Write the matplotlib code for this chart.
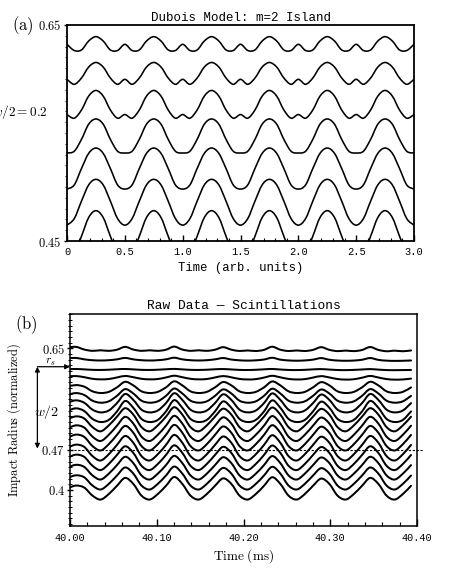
import matplotlib
matplotlib.use('Agg')
import matplotlib.pyplot as plt
import numpy as np
from matplotlib.path import Path
from matplotlib.patches import PathPatch
from matplotlib.ticker import MultipleLocator, FixedLocator, FormatStrFormatter
import matplotlib.transforms as mtransforms

plt.rcParams['mathtext.fontset'] = 'cm'
plt.rcParams['font.family'] = 'Liberation Mono'

# ---------------- panel (a): Dubois model ----------------
t_a = np.arange(49) * 0.0625
a_labels = ['0', '0.5', '1.0', '1.5', '2.0', '2.5', '3.0']

a1 = [0.6321, 0.6264, 0.6269, 0.6352, 0.6392, 0.6352, 0.6269, 0.6264,
      0.6321, 0.6264, 0.6269, 0.6352, 0.6392, 0.6352, 0.6269, 0.6264,
      0.6321, 0.6264, 0.6269, 0.6352, 0.6392, 0.6352, 0.6269, 0.6264,
      0.6321, 0.6264, 0.6269, 0.6352, 0.6392, 0.6352, 0.6269, 0.6264,
      0.6321, 0.6264, 0.6269, 0.6352, 0.6392, 0.6352, 0.6269, 0.6264,
      0.6321, 0.6264, 0.6269, 0.6352, 0.6392, 0.6352, 0.6269, 0.6264, 0.6321]
a2 = [0.5997, 0.5951, 0.6009, 0.6111, 0.6153, 0.6111, 0.6009, 0.5951,
      0.5997, 0.5951, 0.6009, 0.6111, 0.6153, 0.6111, 0.6009, 0.5951,
      0.5997, 0.5951, 0.6009, 0.6111, 0.6153, 0.6111, 0.6009, 0.5951,
      0.5997, 0.5951, 0.6009, 0.6111, 0.6153, 0.6111, 0.6009, 0.5951,
      0.5997, 0.5951, 0.6009, 0.6111, 0.6153, 0.6111, 0.6009, 0.5951,
      0.5997, 0.5951, 0.6009, 0.6111, 0.6153, 0.6111, 0.6009, 0.5951, 0.5997]
a3 = [0.5671, 0.5637, 0.5713, 0.5842, 0.5894, 0.5842, 0.5713, 0.5637,
      0.5671, 0.5637, 0.5713, 0.5842, 0.5894, 0.5842, 0.5713, 0.5637,
      0.5671, 0.5637, 0.5713, 0.5842, 0.5894, 0.5842, 0.5713, 0.5637,
      0.5671, 0.5637, 0.5713, 0.5842, 0.5894, 0.5842, 0.5713, 0.5637,
      0.5671, 0.5637, 0.5713, 0.5842, 0.5894, 0.5842, 0.5713, 0.5637,
      0.5671, 0.5637, 0.5713, 0.5842, 0.5894, 0.5842, 0.5713, 0.5637, 0.5671]
a4 = [0.5315, 0.5331, 0.5441, 0.5582, 0.5630, 0.5582, 0.5441, 0.5331,
      0.5315, 0.5331, 0.5441, 0.5582, 0.5630, 0.5582, 0.5441, 0.5331,
      0.5315, 0.5331, 0.5441, 0.5582, 0.5630, 0.5582, 0.5441, 0.5331,
      0.5315, 0.5331, 0.5441, 0.5582, 0.5630, 0.5582, 0.5441, 0.5331,
      0.5315, 0.5331, 0.5441, 0.5582, 0.5630, 0.5582, 0.5441, 0.5331,
      0.5315, 0.5331, 0.5441, 0.5582, 0.5630, 0.5582, 0.5441, 0.5331, 0.5315]
a5 = [0.4981, 0.5019, 0.5171, 0.5312, 0.5361, 0.5312, 0.5171, 0.5019,
      0.4981, 0.5019, 0.5171, 0.5312, 0.5361, 0.5312, 0.5171, 0.5019,
      0.4981, 0.5019, 0.5171, 0.5312, 0.5361, 0.5312, 0.5171, 0.5019,
      0.4981, 0.5019, 0.5171, 0.5312, 0.5361, 0.5312, 0.5171, 0.5019,
      0.4981, 0.5019, 0.5171, 0.5312, 0.5361, 0.5312, 0.5171, 0.5019,
      0.4981, 0.5019, 0.5171, 0.5312, 0.5361, 0.5312, 0.5171, 0.5019, 0.4981]
a6 = [0.4647, 0.4707, 0.4869, 0.5020, 0.5071, 0.5020, 0.4869, 0.4707,
      0.4647, 0.4707, 0.4869, 0.5020, 0.5071, 0.5020, 0.4869, 0.4707,
      0.4647, 0.4707, 0.4869, 0.5020, 0.5071, 0.5020, 0.4869, 0.4707,
      0.4647, 0.4707, 0.4869, 0.5020, 0.5071, 0.5020, 0.4869, 0.4707,
      0.4647, 0.4707, 0.4869, 0.5020, 0.5071, 0.5020, 0.4869, 0.4707,
      0.4647, 0.4707, 0.4869, 0.5020, 0.5071, 0.5020, 0.4869, 0.4707, 0.4647]
a7 = [0.4308, 0.4378, 0.4544, 0.4718, 0.4781, 0.4718, 0.4544, 0.4378,
      0.4308, 0.4378, 0.4544, 0.4718, 0.4781, 0.4718, 0.4544, 0.4378,
      0.4308, 0.4378, 0.4544, 0.4718, 0.4781, 0.4718, 0.4544, 0.4378,
      0.4308, 0.4378, 0.4544, 0.4718, 0.4781, 0.4718, 0.4544, 0.4378,
      0.4308, 0.4378, 0.4544, 0.4718, 0.4781, 0.4718, 0.4544, 0.4378,
      0.4308, 0.4378, 0.4544, 0.4718, 0.4781, 0.4718, 0.4544, 0.4378, 0.4308]
model_traces = [a1, a2, a3, a4, a5, a6, a7]

# ---------------- panel (b): raw scintillation data ----------------
t_b = 40.007 + np.arange(-1, 42) * 0.0094167

b1 = [0.6515,
      0.6525, 0.6478, 0.6455, 0.6465, 0.6455, 0.6475,
      0.6525, 0.6478, 0.6455, 0.6465, 0.6455, 0.6475,
      0.6530, 0.6478, 0.6455, 0.6465, 0.6455, 0.6475,
      0.6520, 0.6476, 0.6453, 0.6462, 0.6452, 0.6472,
      0.6528, 0.6475, 0.6452, 0.6462, 0.6452, 0.6472,
      0.6520, 0.6473, 0.6450, 0.6460, 0.6450, 0.6470,
      0.6522, 0.6472, 0.6448, 0.6458, 0.6448, 0.6462]
b2 = [0.6325,
      0.6330, 0.6305, 0.6290, 0.6285, 0.6290, 0.6305,
      0.6330, 0.6305, 0.6290, 0.6285, 0.6290, 0.6305,
      0.6334, 0.6305, 0.6290, 0.6285, 0.6290, 0.6305,
      0.6328, 0.6302, 0.6288, 0.6283, 0.6288, 0.6302,
      0.6333, 0.6300, 0.6286, 0.6281, 0.6286, 0.6300,
      0.6327, 0.6298, 0.6284, 0.6280, 0.6284, 0.6298,
      0.6328, 0.6296, 0.6282, 0.6278, 0.6280, 0.6285]
b3 = [0.6132,
      0.6135, 0.6128, 0.6120, 0.6118, 0.6122, 0.6130,
      0.6135, 0.6128, 0.6120, 0.6118, 0.6122, 0.6130,
      0.6136, 0.6128, 0.6120, 0.6118, 0.6122, 0.6130,
      0.6134, 0.6127, 0.6119, 0.6117, 0.6121, 0.6129,
      0.6135, 0.6126, 0.6118, 0.6116, 0.6120, 0.6128,
      0.6133, 0.6125, 0.6117, 0.6115, 0.6119, 0.6126,
      0.6133, 0.6124, 0.6116, 0.6114, 0.6116, 0.6118]
b4 = [0.6005,
      0.6010, 0.5990, 0.5962, 0.5952, 0.5958, 0.5985,
      0.6012, 0.5990, 0.5962, 0.5952, 0.5958, 0.5985,
      0.6016, 0.5990, 0.5962, 0.5952, 0.5958, 0.5985,
      0.6010, 0.5988, 0.5960, 0.5950, 0.5956, 0.5983,
      0.6015, 0.5988, 0.5960, 0.5950, 0.5956, 0.5983,
      0.6009, 0.5986, 0.5958, 0.5948, 0.5954, 0.5981,
      0.6012, 0.5985, 0.5957, 0.5947, 0.5950, 0.5965]
b5 = [0.5827,
      0.5851, 0.5823, 0.5741, 0.5711, 0.5731, 0.5810,
      0.5909, 0.5846, 0.5741, 0.5711, 0.5731, 0.5810,
      0.5917, 0.5846, 0.5741, 0.5711, 0.5731, 0.5810,
      0.5905, 0.5846, 0.5741, 0.5711, 0.5731, 0.5810,
      0.5915, 0.5846, 0.5741, 0.5711, 0.5731, 0.5810,
      0.5903, 0.5846, 0.5741, 0.5711, 0.5731, 0.5810,
      0.5909, 0.5846, 0.5741, 0.5711, 0.5731, 0.5810]
b6 = [0.5680,
      0.5710, 0.5676, 0.5576, 0.5540, 0.5564, 0.5660,
      0.5780, 0.5703, 0.5576, 0.5540, 0.5564, 0.5660,
      0.5790, 0.5703, 0.5576, 0.5540, 0.5564, 0.5660,
      0.5775, 0.5703, 0.5576, 0.5540, 0.5564, 0.5660,
      0.5787, 0.5703, 0.5576, 0.5540, 0.5564, 0.5660,
      0.5773, 0.5703, 0.5576, 0.5540, 0.5564, 0.5660,
      0.5780, 0.5703, 0.5576, 0.5540, 0.5564, 0.5660]
b7 = [0.5544,
      0.5582, 0.5539, 0.5418, 0.5369, 0.5402, 0.5532,
      0.5694, 0.5590, 0.5418, 0.5369, 0.5402, 0.5532,
      0.5707, 0.5590, 0.5418, 0.5369, 0.5402, 0.5532,
      0.5688, 0.5590, 0.5418, 0.5369, 0.5402, 0.5532,
      0.5704, 0.5590, 0.5418, 0.5369, 0.5402, 0.5532,
      0.5684, 0.5590, 0.5418, 0.5369, 0.5402, 0.5532,
      0.5694, 0.5590, 0.5418, 0.5369, 0.5402, 0.5532]
b8 = [0.5399,
      0.5441, 0.5393, 0.5255, 0.5199, 0.5236, 0.5385,
      0.5570, 0.5451, 0.5255, 0.5199, 0.5236, 0.5385,
      0.5585, 0.5451, 0.5255, 0.5199, 0.5236, 0.5385,
      0.5563, 0.5451, 0.5255, 0.5199, 0.5236, 0.5385,
      0.5581, 0.5451, 0.5255, 0.5199, 0.5236, 0.5385,
      0.5559, 0.5451, 0.5255, 0.5199, 0.5236, 0.5385,
      0.5570, 0.5451, 0.5255, 0.5199, 0.5236, 0.5385]
b9 = [0.5251,
      0.5299, 0.5261, 0.5110, 0.5035, 0.5139, 0.5293,
      0.5443, 0.5331, 0.5110, 0.5035, 0.5139, 0.5293,
      0.5460, 0.5331, 0.5110, 0.5035, 0.5139, 0.5293,
      0.5435, 0.5331, 0.5110, 0.5035, 0.5139, 0.5293,
      0.5455, 0.5331, 0.5110, 0.5035, 0.5139, 0.5293,
      0.5431, 0.5331, 0.5110, 0.5035, 0.5139, 0.5293,
      0.5443, 0.5331, 0.5110, 0.5035, 0.5139, 0.5293]
b10 = [0.5090,
       0.5140, 0.5100, 0.4942, 0.4864, 0.4973, 0.5134,
       0.5291, 0.5173, 0.4942, 0.4864, 0.4973, 0.5134,
       0.5308, 0.5173, 0.4942, 0.4864, 0.4973, 0.5134,
       0.5282, 0.5173, 0.4942, 0.4864, 0.4973, 0.5134,
       0.5304, 0.5173, 0.4942, 0.4864, 0.4973, 0.5134,
       0.5278, 0.5173, 0.4942, 0.4864, 0.4973, 0.5134,
       0.5291, 0.5173, 0.4942, 0.4864, 0.4973, 0.5134]
b11 = [0.4926,
       0.4977, 0.4936, 0.4776, 0.4697, 0.4807, 0.4971,
       0.5130, 0.5011, 0.4776, 0.4697, 0.4807, 0.4971,
       0.5148, 0.5011, 0.4776, 0.4697, 0.4807, 0.4971,
       0.5121, 0.5011, 0.4776, 0.4697, 0.4807, 0.4971,
       0.5143, 0.5011, 0.4776, 0.4697, 0.4807, 0.4971,
       0.5117, 0.5011, 0.4776, 0.4697, 0.4807, 0.4971,
       0.5130, 0.5011, 0.4776, 0.4697, 0.4807, 0.4971]
b12 = [0.4749,
       0.4800, 0.4759, 0.4599, 0.4520, 0.4630, 0.4794,
       0.4953, 0.4834, 0.4599, 0.4520, 0.4630, 0.4794,
       0.4971, 0.4834, 0.4599, 0.4520, 0.4630, 0.4794,
       0.4944, 0.4834, 0.4599, 0.4520, 0.4630, 0.4794,
       0.4966, 0.4834, 0.4599, 0.4520, 0.4630, 0.4794,
       0.4940, 0.4834, 0.4599, 0.4520, 0.4630, 0.4794,
       0.4953, 0.4834, 0.4599, 0.4520, 0.4630, 0.4794]
b13 = [0.4573,
       0.4623, 0.4583, 0.4428, 0.4351, 0.4458, 0.4617,
       0.4771, 0.4655, 0.4428, 0.4351, 0.4458, 0.4617,
       0.4788, 0.4655, 0.4428, 0.4351, 0.4458, 0.4617,
       0.4762, 0.4655, 0.4428, 0.4351, 0.4458, 0.4617,
       0.4784, 0.4655, 0.4428, 0.4351, 0.4458, 0.4617,
       0.4758, 0.4655, 0.4428, 0.4351, 0.4458, 0.4617,
       0.4771, 0.4655, 0.4428, 0.4351, 0.4458, 0.4617]
b14 = [0.4397,
       0.4444, 0.4406, 0.4258, 0.4184, 0.4287, 0.4438,
       0.4586, 0.4475, 0.4258, 0.4184, 0.4287, 0.4438,
       0.4602, 0.4475, 0.4258, 0.4184, 0.4287, 0.4438,
       0.4578, 0.4475, 0.4258, 0.4184, 0.4287, 0.4438,
       0.4598, 0.4475, 0.4258, 0.4184, 0.4287, 0.4438,
       0.4574, 0.4475, 0.4258, 0.4184, 0.4287, 0.4438,
       0.4586, 0.4475, 0.4258, 0.4184, 0.4287, 0.4438]
b15 = [0.4214,
       0.4259, 0.4223, 0.4079, 0.4008, 0.4107, 0.4254,
       0.4397, 0.4290, 0.4079, 0.4008, 0.4107, 0.4254,
       0.4413, 0.4290, 0.4079, 0.4008, 0.4107, 0.4254,
       0.4389, 0.4290, 0.4079, 0.4008, 0.4107, 0.4254,
       0.4409, 0.4290, 0.4079, 0.4008, 0.4107, 0.4254,
       0.4385, 0.4290, 0.4079, 0.4008, 0.4107, 0.4254,
       0.4397, 0.4290, 0.4079, 0.4008, 0.4107, 0.4254]
b16 = [0.4033,
       0.4078, 0.4042, 0.3901, 0.3831, 0.3928, 0.4073,
       0.4213, 0.4108, 0.3901, 0.3831, 0.3928, 0.4073,
       0.4229, 0.4108, 0.3901, 0.3831, 0.3928, 0.4073,
       0.4205, 0.4108, 0.3901, 0.3831, 0.3928, 0.4073,
       0.4225, 0.4108, 0.3901, 0.3831, 0.3928, 0.4073,
       0.4201, 0.4108, 0.3901, 0.3831, 0.3928, 0.4073,
       0.4213, 0.4108, 0.3901, 0.3831, 0.3928, 0.4073]
raw_traces = [b1, b2, b3, b4, b5, b6, b7, b8, b9, b10, b11, b12, b13, b14, b15, b16]

r_s = 0.6175
r_edge = 0.47


def draw_trace(ax, x, y, lw):
    # smooth curve through the read points (Catmull-Rom as cubic Bezier)
    pts = np.column_stack([np.asarray(x, float), np.asarray(y, float)])
    ext = np.vstack([pts[0], pts, pts[-1]])
    verts = [pts[0]]
    for i in range(len(pts) - 1):
        p0, p1, p2, p3 = ext[i], ext[i + 1], ext[i + 2], ext[i + 3]
        verts += [p1 + (p2 - p0) / 6, p2 - (p3 - p1) / 6, p2]
    codes = [Path.MOVETO] + [Path.CURVE4] * (3 * (len(pts) - 1))
    ax.add_patch(PathPatch(Path(verts, codes), fill=False, lw=lw, ec='k',
                           capstyle='round', joinstyle='round'))


fig = plt.figure(figsize=(4.54, 5.84), dpi=100)

# ---- (a)
ax1 = fig.add_axes([0.1476, 0.5873, 0.7643, 0.3699])
for y in model_traces:
    draw_trace(ax1, t_a, y, 1.15)
ax1.set_xlim(0, 3.0)
ax1.set_ylim(0.45, 0.65)
ax1.xaxis.set_major_locator(FixedLocator([0, 0.5, 1.0, 1.5, 2.0, 2.5, 3.0]))
ax1.set_xticklabels(a_labels)
ax1.xaxis.set_minor_locator(MultipleLocator(0.1))
ax1.set_yticks([0.45, 0.65])
ax1.set_yticklabels([r'$0.45$', r'$0.65$'])
ax1.yaxis.set_minor_locator(MultipleLocator(0.01))
ax1.tick_params(axis='x', which='major', direction='in', length=4.5, width=1, labelsize=7.5, pad=4)
ax1.tick_params(axis='x', which='minor', direction='in', length=2.5, width=0.8)
ax1.tick_params(axis='y', which='major', direction='out', length=2.5, width=1, labelsize=9, pad=1.5)
ax1.tick_params(axis='y', which='minor', direction='out', length=1.5, width=0.6)
for sp in ax1.spines.values():
    sp.set_linewidth(1.3)
ax1.text(0.5, 1.031, 'Dubois Model: m=2 Island', transform=ax1.transAxes,
         ha='center', va='center', fontsize=9)
ax1.set_xlabel('Time (arb. units)', fontsize=8.8)
ax1.xaxis.set_label_coords(0.5, -0.095)
fig.text(23 / 454, 1 - 26 / 584, r'$\mathrm{(a)}$', fontsize=12, ha='center', va='center')
fig.text(48 / 454, 1 - 111.7 / 584, r'$w/2 = 0.2$', fontsize=9.5, ha='right', va='center')

# ---- (b)
ax2 = fig.add_axes([0.1542, 0.0993, 0.7643, 0.363])
for y in raw_traces:
    draw_trace(ax2, t_b, y, 1.45)
ax2.set_xlim(40.0, 40.4)
ax2.set_ylim(0.3364, 0.7105)
ax2.xaxis.set_major_locator(MultipleLocator(0.1))
ax2.xaxis.set_major_formatter(FormatStrFormatter('%.2f'))
ax2.xaxis.set_minor_locator(MultipleLocator(0.02))
ax2.set_yticks([0.4, 0.47, 0.65])
ax2.set_yticklabels([r'$0.4$', r'$0.47$', r'$0.65$'])
ax2.yaxis.set_minor_locator(MultipleLocator(0.01))
ax2.tick_params(axis='x', which='major', direction='in', length=5, width=1, labelsize=7.3, pad=5)
ax2.tick_params(axis='x', which='minor', direction='in', length=3, width=0.8)
ax2.tick_params(axis='y', which='major', direction='inout', length=5, width=1, labelsize=9, pad=1)
ax2.tick_params(axis='y', which='minor', direction='inout', length=3, width=0.7)
for sp in ax2.spines.values():
    sp.set_linewidth(1.1)
ax2.axhline(r_edge, xmin=0, xmax=1.017, color='k', lw=0.8, ls=(0, (2, 1.5)), clip_on=False)
ax2.text(0.5, 1.038, 'Raw Data \u2014 Scintillations', transform=ax2.transAxes,
         ha='center', va='center', fontsize=9.3)
ax2.set_xlabel(r'$\mathrm{Time\ (ms)}$', fontsize=9.5)
ax2.xaxis.set_label_coords(0.5, -0.1)
ax2.set_ylabel(r'$\mathrm{Impact\ Radius\ (normalized)}$', fontsize=9)
ax2.yaxis.set_label_coords(-0.136, 0.5)

trans = mtransforms.blended_transform_factory(ax2.transAxes, ax2.transData)
ax2.annotate('', xy=(-0.094, r_edge + 0.003), xytext=(-0.094, r_s), xycoords=trans,
             textcoords=trans, annotation_clip=False,
             arrowprops=dict(arrowstyle='<|-|>', lw=0.9, color='k', mutation_scale=7,
                             shrinkA=0, shrinkB=0))
ax2.annotate('', xy=(0.0, r_s), xytext=(-0.094, r_s), xycoords=trans, textcoords=trans,
             annotation_clip=False,
             arrowprops=dict(arrowstyle='-|>', lw=0.9, color='k', mutation_scale=7,
                             shrinkA=0, shrinkB=0))
ax2.text(-0.058, 0.6262, r'$r_s$', transform=trans, fontsize=8.5, ha='center', va='center')
ax2.text(-0.066, 0.5381, r'$w/2$', transform=trans, fontsize=10, ha='center', va='center')
fig.text(26 / 454, 1 - 325 / 584, r'$\mathrm{(b)}$', fontsize=12, ha='center', va='center')

fig.savefig('out.png', dpi=100)
